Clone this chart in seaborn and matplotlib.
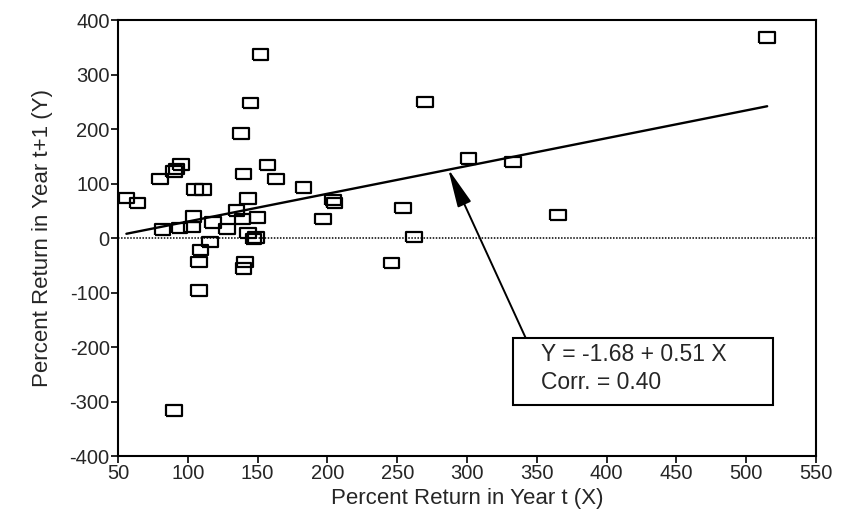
import matplotlib
matplotlib.use("Agg")
import matplotlib.pyplot as plt
import seaborn as sns
import pandas as pd
from matplotlib.patches import Rectangle

# ---- data ----
x_return_t = [56, 64, 80, 82, 90, 92, 95, 94, 105, 111,
              104, 103, 116, 109, 108, 108, 90, 118, 128, 135,
              138, 140, 139, 141, 140, 143, 143, 147, 149, 145,
              150, 152, 157, 163, 183, 197, 204, 205, 246, 254,
              262, 270, 301, 333, 365, 515]
y_return_t1 = [74, 65, 108, 16, 122, 127, 135, 19, 89, 89,
               40, 21, -7, -22, -44, -96, -316, 29, 17, 51,
               192, 118, 35, -44, -56, 73, 9, -1, 1, 248,
               38, 337, 134, 108, 93, 35, 70, 64, -46, 55,
               2, 250, 146, 140, 43, 368]

fit_x = [56, 515]
fit_y = [8, 242]

x_ticks = [50, 100, 150, 200, 250, 300, 350, 400, 450, 500, 550]
y_ticks = [-400, -300, -200, -100, 0, 100, 200, 300, 400]

eq_text = "Y = -1.68 + 0.51 X"
corr_text = "Corr. = 0.40"

df = pd.DataFrame({"x": x_return_t, "y": y_return_t1})
fit_df = pd.DataFrame({"x": fit_x, "y": fit_y})

sns.set_style("ticks")
plt.rcParams["font.family"] = ["Liberation Sans", "DejaVu Sans"]
plt.rcParams["axes.unicode_minus"] = False

fig = plt.figure(figsize=(8.43, 5.16), dpi=100)
ax = fig.add_axes([0.140, 0.116, 0.828, 0.845])

rect_marker = [(-1.5, -1), (1.5, -1), (1.5, 1), (-1.5, 1), (-1.5, -1)]

ax.axhline(0, color="black", lw=1.1, ls=(0, (1, 1)), zorder=1)
sns.lineplot(data=fit_df, x="x", y="y", color="black", lw=1.7, ax=ax, zorder=2)
sns.scatterplot(data=df, x="x", y="y", marker=rect_marker, s=125,
                facecolor="none", edgecolor="black", linewidth=1.6, ax=ax, zorder=3)

ax.set_xlim(50, 550)
ax.set_ylim(-400, 400)
ax.set_xticks(x_ticks)
ax.set_yticks(y_ticks)
ax.tick_params(axis="both", labelsize=14.5, length=5, width=1.2, color="black", pad=1)
for s in ax.spines.values():
    s.set_visible(True)
    s.set_linewidth(1.5)
    s.set_color("black")

ax.set_xlabel("Percent Return in Year t (X)", fontsize=16, labelpad=3)
ax.set_ylabel("Percent Return in Year t+1 (Y)", fontsize=16, labelpad=12)

# annotation box and arrow
ax.add_patch(Rectangle((333, -307), 186.5, 124, fill=False, lw=1.5,
                       edgecolor="black", zorder=4))
ax.text(353, -214, eq_text, fontsize=16.5, va="center", ha="left", zorder=5)
ax.text(353, -265, corr_text, fontsize=16.5, va="center", ha="left", zorder=5)
ax.annotate("", xy=(286.5, 127), xytext=(342, -183),
            arrowprops=dict(arrowstyle="-|>,head_length=1.7,head_width=0.32",
                            color="black", lw=1.4, shrinkA=0, shrinkB=0,
                            mutation_scale=14))

fig.savefig("out.png", dpi=100)
